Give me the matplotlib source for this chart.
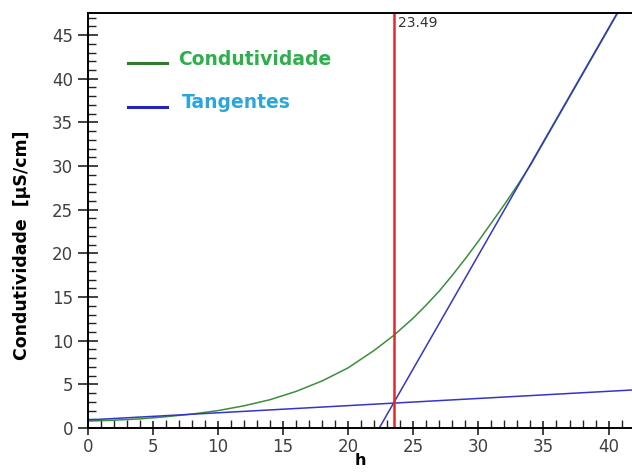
import matplotlib
matplotlib.use("Agg")
import matplotlib.pyplot as plt
import numpy as np
from matplotlib.ticker import MultipleLocator

# conductivity curve
h = [0, 2, 4, 6, 8, 10, 12, 14, 16, 18, 20, 22, 23.49, 25, 26, 27, 28, 29, 30, 31, 32, 33, 34, 36, 38, 40, 41.8]
cond = [0.8, 0.9, 1.05, 1.3, 1.6, 2.0, 2.55, 3.25, 4.2, 5.4, 6.9, 8.9, 10.6, 12.6, 14.1, 15.7, 17.5, 19.4, 21.4, 23.5, 25.6, 27.8, 30.1, 35.3, 40.5, 45.7, 50.4]

# tangent lines (slope, intercept)
tan_low = (0.082, 0.93)
tan_high = (2.6, -58.2)
x_eq = 23.49

fig = plt.figure(figsize=(6.32, 4.73), dpi=100)
ax = fig.add_axes([0.139, 0.095, 0.861, 0.877])

ax.plot(h, cond, color='#3a8f3a', linewidth=1.1)

xt = np.array([0, 41.8])
ax.plot(xt, tan_low[0] * xt + tan_low[1], color='#3535c8', linewidth=1.1)
ax.plot(xt, tan_high[0] * xt + tan_high[1], color='#3535c8', linewidth=1.1)

ax.axvline(x_eq, color='#e8262a', linewidth=1.8)
ax.text(x_eq + 0.35, 45.9, f"{x_eq:.2f}", fontsize=10, color='#333333')

ax.set_xlim(0, 41.8)
ax.set_ylim(0, 47.5)

ax.xaxis.set_major_locator(MultipleLocator(5))
ax.xaxis.set_minor_locator(MultipleLocator(1))
ax.yaxis.set_major_locator(MultipleLocator(5))
ax.yaxis.set_minor_locator(MultipleLocator(1))
ax.tick_params(which='major', labelsize=12, labelcolor='#404040', color='#222222', width=1.2)
ax.tick_params(axis='y', which='major', direction='inout', length=14)
ax.tick_params(axis='x', which='major', direction='inout', length=10, pad=2)
ax.tick_params(which='minor', direction='in', length=6, width=1.0, color='#222222')

ax.spines['right'].set_visible(False)
for s in ['left', 'bottom', 'top']:
    ax.spines[s].set_linewidth(1.4)

ax.set_ylabel("Condutividade  [µS/cm]", fontsize=12.5, fontweight='bold')
ax.yaxis.set_label_coords(-0.105, 0.44)
ax.set_xlabel("h", fontsize=11.5, fontweight='bold', labelpad=-2)

# legend drawn by hand
ax.plot([3.1, 6.1], [41.8, 41.8], color='#2f7a2f', linewidth=2.2)
ax.text(6.9, 42.2, "Condutividade", fontsize=13.5, fontweight='bold', color='#2db04b', va='center')
ax.plot([3.1, 6.1], [36.8, 36.8], color='#2424b4', linewidth=2.2)
ax.text(7.2, 37.3, "Tangentes", fontsize=13.5, fontweight='bold', color='#2aa6de', va='center')

fig.savefig("out.png", dpi=100)
